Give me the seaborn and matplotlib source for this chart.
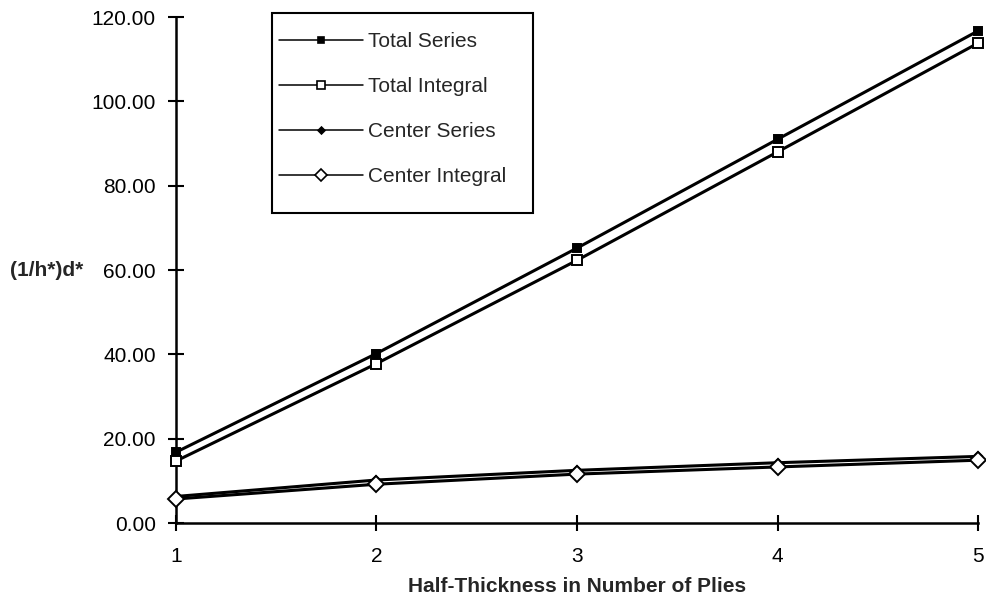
import matplotlib
matplotlib.use("Agg")
import matplotlib.pyplot as plt
from matplotlib.patches import Rectangle
import pandas as pd
import seaborn as sns

plies = [1, 2, 3, 4, 5]
total_series = [16.8, 40.2, 65.2, 91.0, 116.7]
total_integral = [14.7, 37.8, 62.3, 88.0, 113.8]
center_series = [6.3, 10.2, 12.5, 14.3, 15.8]
center_integral = [5.7, 9.2, 11.6, 13.3, 14.9]

series_names = ["Total Series", "Total Integral", "Center Series", "Center Integral"]
series_values = [total_series, total_integral, center_series, center_integral]

df = pd.DataFrame(
    [(n, x, v) for n, vals in zip(series_names, series_values) for x, v in zip(plies, vals)],
    columns=["series", "plies", "value"],
)

sns.set_theme(style="ticks")
plt.rcParams["font.family"] = ["Liberation Sans", "DejaVu Sans"]

fig = plt.figure(figsize=(9.87, 6.05), dpi=100)
ax = fig.add_axes([0.1783, 0.1355, 0.8126, 0.8364])

# marker, plot size, legend size, face colour
styles = {
    "Total Series": ("s", 6, 5, "black"),
    "Total Integral": ("s", 7, 6, "white"),
    "Center Series": ("D", 4, 3.5, "black"),
    "Center Integral": ("D", 8, 6, "white"),
}

for name in series_names:
    sub = df[df["series"] == name]
    mk, ms, _, fc = styles[name]
    sns.lineplot(
        data=sub, x="plies", y="value", ax=ax, color="black", lw=2.2,
        marker=mk, markersize=ms, markerfacecolor=fc,
        markeredgecolor="black", markeredgewidth=1.4, label=name,
        zorder=3, clip_on=False,
    )

ax.set_xlim(1, 5)
ax.set_ylim(0, 120)
ax.set_xticks(plies)
ax.set_yticks(range(0, 121, 20))
ax.set_yticklabels([f"{v:.2f}" for v in range(0, 121, 20)])
ax.tick_params(axis="both", direction="inout", length=11, width=1.5, labelsize=15, colors="black")
ax.tick_params(axis="x", pad=12)
ax.tick_params(axis="y", pad=9)
for side in ["top", "right"]:
    ax.spines[side].set_visible(False)
for side in ["left", "bottom"]:
    ax.spines[side].set_linewidth(1.8)
    ax.spines[side].set_color("black")

ax.set_xlabel("Half-Thickness in Number of Plies", fontsize=15, fontweight="bold", labelpad=8)
ax.set_ylabel("(1/h*)d*", fontsize=15, fontweight="bold", rotation=0, va="center")
ax.yaxis.set_label_coords(-0.161, 0.5)

leg = ax.legend(
    loc="upper left", bbox_to_anchor=(279 / 987, 1 - 32 / 605), bbox_transform=fig.transFigure,
    frameon=False, fontsize=15, handlelength=4.05, labelspacing=1.25,
    borderpad=0, handletextpad=0.2, borderaxespad=0,
)
for line, name in zip(leg.get_lines(), series_names):
    line.set_linewidth(1.1)
    line.set_markersize(styles[name][2])
    line.set_markeredgewidth(1.2)

fig.patches.append(Rectangle(
    (272 / 987, 1 - 213 / 605), 261 / 987, 200 / 605,
    transform=fig.transFigure, fill=False, edgecolor="black", lw=1.5,
))

fig.savefig("out.png", dpi=100)
